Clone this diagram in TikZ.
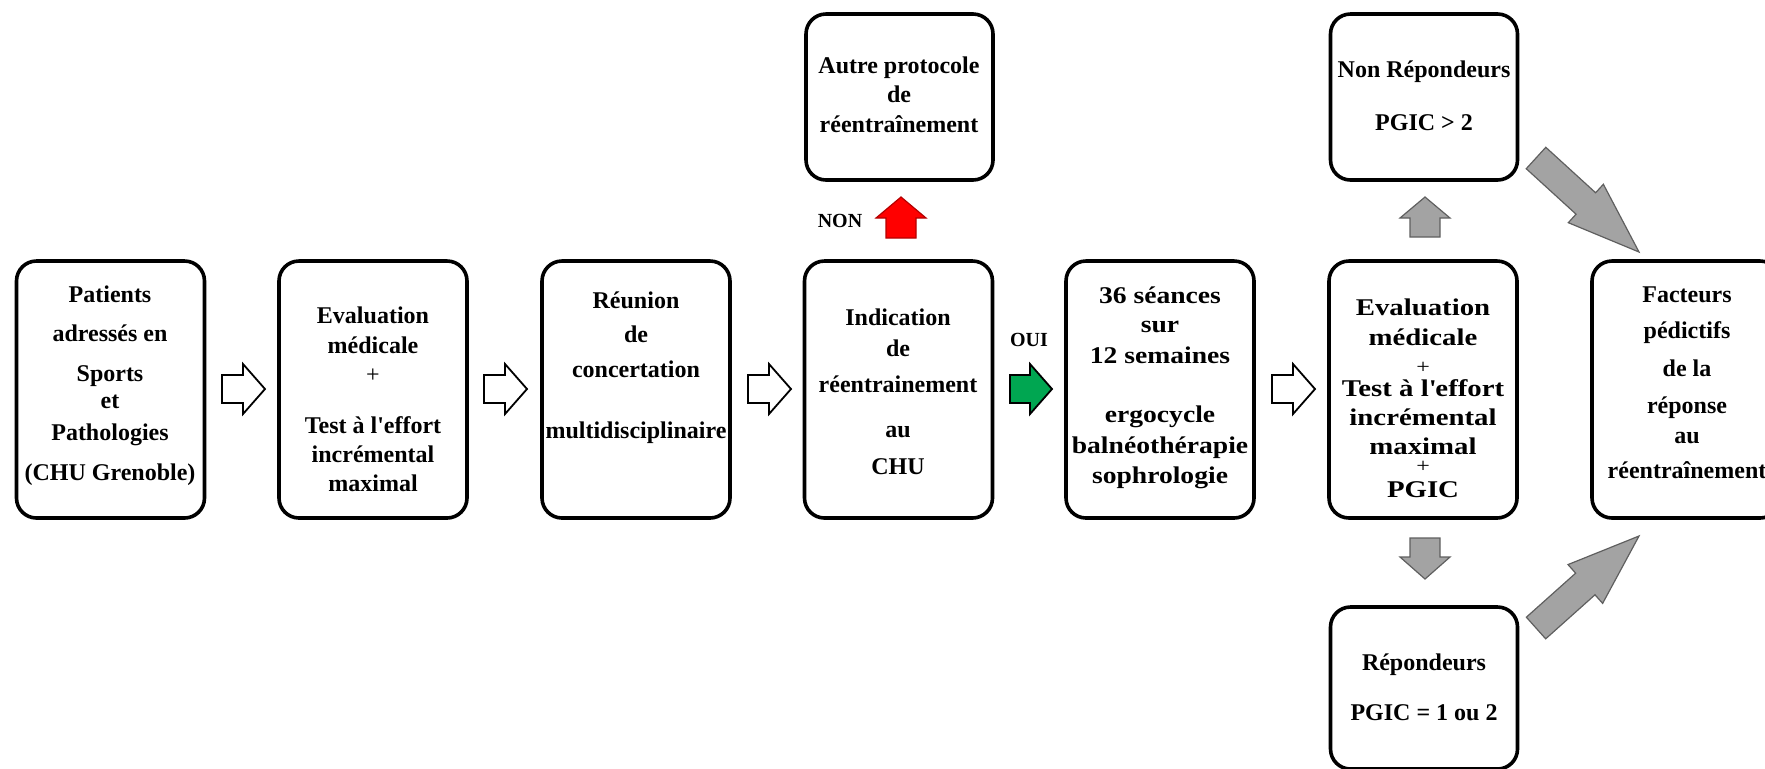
\documentclass[tikz,border=0pt]{standalone}
\usepackage{fontspec}
\setmainfont{Liberation Serif}
\newfontfamily\widerA{Liberation Serif}[FakeStretch=1.15]
\newfontfamily\widerB{Liberation Serif}[FakeStretch=1.2]
\usetikzlibrary{calc}
\definecolor{arrgray}{RGB}{163,163,163}
\definecolor{arrgrayline}{RGB}{95,95,95}
\definecolor{okgreen}{RGB}{0,166,81}
\definecolor{nored}{RGB}{255,0,0}
\definecolor{noredline}{RGB}{180,0,0}
% #1 style, #2 tail, #3 tip, #4 shaft half width, #5 head half width, #6 head length
\newcommand{\bkarrow}[6][]{%
  \coordinate (ba-h) at ($(#3)!#6!(#2)$);
  \draw[#1] ($(#2)!#4!90:(#3)$) -- ($(ba-h)!#4!90:(#3)$) -- ($(ba-h)!#5!90:(#3)$) -- (#3)
    -- ($(ba-h)!#5!-90:(#3)$) -- ($(ba-h)!#4!-90:(#3)$) -- ($(#2)!#4!-90:(#3)$) -- cycle;
}
\newcommand{\smallplus}{{\mdseries\fontsize{10}{10}\selectfont +}}
\begin{document}
\begin{tikzpicture}[x=0.5pt,y=-0.5pt,
  box/.style={draw=black, line width=1.8pt, rounded corners=10pt, fill=white,
    minimum width=94pt, minimum height=128.5pt, inner sep=0pt},
  txt/.style={align=center, inner sep=0pt, anchor=north,
    font=\fontsize{12}{12}\selectfont\bfseries},
  txtA/.style={txt, font=\widerA\fontsize{12}{12}\selectfont\bfseries},
  txtB/.style={txt, font=\widerB\fontsize{12}{12}\selectfont\bfseries},
  small/.style={inner sep=0pt, anchor=base, font=\fontsize{10}{12}\selectfont\bfseries},
  hollow/.style={draw=black, fill=white, line width=0.9pt, line join=miter},
  greenarr/.style={draw=black, fill=okgreen, line width=0.9pt, line join=miter},
  redarr/.style={draw=noredline, fill=nored, line width=0.6pt, line join=miter},
  grayarr/.style={draw=arrgrayline, fill=arrgray, line width=0.6pt, line join=miter}]
\useasboundingbox (0,0) rectangle (1765,768);

% main row boxes
\node[box] (b1) at (110.5,389.5) {};
\node[box] (b2) at (373,389.5) {};
\node[box] (b3) at (636,389.5) {};
\node[box] (b4) at (898.5,389.5) {};
\node[box] (b5) at (1160,389.5) {};
\node[box] (b6) at (1423,389.5) {};
\node[box] (b7) at (1686,389.5) {};
% side boxes
\node[box, minimum width=93.5pt, minimum height=83pt] (autre) at (899.5,97) {};
\node[box, minimum width=93.5pt, minimum height=83pt] (nonrep) at (1424,97) {};
\node[box, minimum width=93.5pt, minimum height=81pt] (rep) at (1424,688) {};

% texts
\node[txt] (t1) at (110,284) {\rule{0pt}{9pt}Patients\\[7.5pt]adressés en\\[8pt]Sports\\[1.5pt]et\\[4pt]Pathologies\\[8pt](CHU Grenoble)};
\node[txt] (t2) at (373,305) {\rule{0pt}{9pt}Evaluation\\[3pt]médicale\\[2.5pt]{\mdseries +}\\[13.5pt]Test à l\textquotesingle effort\\[2.5pt]incrémental\\[2.5pt]maximal};
\node[txt] (t3) at (636,290) {\rule{0pt}{9pt}Réunion\\[5pt]de\\[5.5pt]concertation\\[18.5pt]multidisciplinaire};
\node[txt] (t4) at (898,307) {\rule{0pt}{9pt}Indication\\[3.5pt]de\\[6pt]réentrainement\\[10.5pt]au\\[6.5pt]CHU};
\node[txtA] (t5) at (1160,285) {\rule{0pt}{9pt}36 séances\\[2.5pt]sur\\[3.5pt]12 semaines\\[17.5pt]ergocycle\\[3.5pt]balnéothérapie\\[3pt]sophrologie};
\node[txtB] (t6) at (1423,297) {\rule{0pt}{9pt}Evaluation\\[3pt]médicale\\[2pt]\smallplus\\[-0.5pt]Test à l\textquotesingle effort\\[2.5pt]incrémental\\[2.5pt]maximal\\[-3pt]\smallplus\\[0.5pt]PGIC};
\node[txt] (t7) at (1687,284) {\rule{0pt}{9pt}Facteurs\\[6pt]pédictifs\\[7pt]de la\\[6.5pt]réponse\\[3pt]au\\[5.5pt]réentraînement};
\node[txt] (ta) at (899,55) {\rule{0pt}{9pt}Autre protocole\\[2.5pt]de\\[3pt]réentraînement};
\node[txt] (tn) at (1424,59) {\rule{0pt}{9pt}Non Répondeurs\\[14.5pt]PGIC > 2};
\node[txt] (tr) at (1424,652) {\rule{0pt}{9pt}Répondeurs\\[13pt]PGIC = 1 ou 2};
\node[small] (non) at (840,227) {NON};
\node[small] (oui) at (1029,346) {OUI};

% arrow end points
\coordinate (a1s) at (222,389); \coordinate (a1e) at (265,389);
\coordinate (a2s) at (484,389); \coordinate (a2e) at (527,389);
\coordinate (a3s) at (748,389); \coordinate (a3e) at (791,389);
\coordinate (a4s) at (1010,389); \coordinate (a4e) at (1052,389);
\coordinate (a5s) at (1272,389); \coordinate (a5e) at (1315,389);
\coordinate (rs) at (901,238); \coordinate (re) at (901,197);
\coordinate (gus) at (1425,237); \coordinate (gue) at (1425,197);
\coordinate (gds) at (1425,538); \coordinate (gde) at (1425,579);
\coordinate (dts) at (1536,158); \coordinate (dte) at (1639,252);
\coordinate (dbs) at (1536,628); \coordinate (dbe) at (1639,536);

\bkarrow[hollow]{a1s}{a1e}{7pt}{12.5pt}{11pt}
\bkarrow[hollow]{a2s}{a2e}{7pt}{12.5pt}{11pt}
\bkarrow[hollow]{a3s}{a3e}{7pt}{12.5pt}{11pt}
\bkarrow[greenarr]{a4s}{a4e}{7pt}{12.5pt}{11pt}
\bkarrow[hollow]{a5s}{a5e}{7pt}{12.5pt}{11pt}
\bkarrow[redarr]{rs}{re}{7.5pt}{12.5pt}{10.5pt}
\bkarrow[grayarr]{gus}{gue}{7.5pt}{12.5pt}{10.5pt}
\bkarrow[grayarr]{gds}{gde}{7.5pt}{12.5pt}{11pt}
\bkarrow[grayarr]{dts}{dte}{7.25pt}{13pt}{36pt}
\bkarrow[grayarr]{dbs}{dbe}{7.25pt}{13pt}{36pt}
\end{tikzpicture}
\end{document}
